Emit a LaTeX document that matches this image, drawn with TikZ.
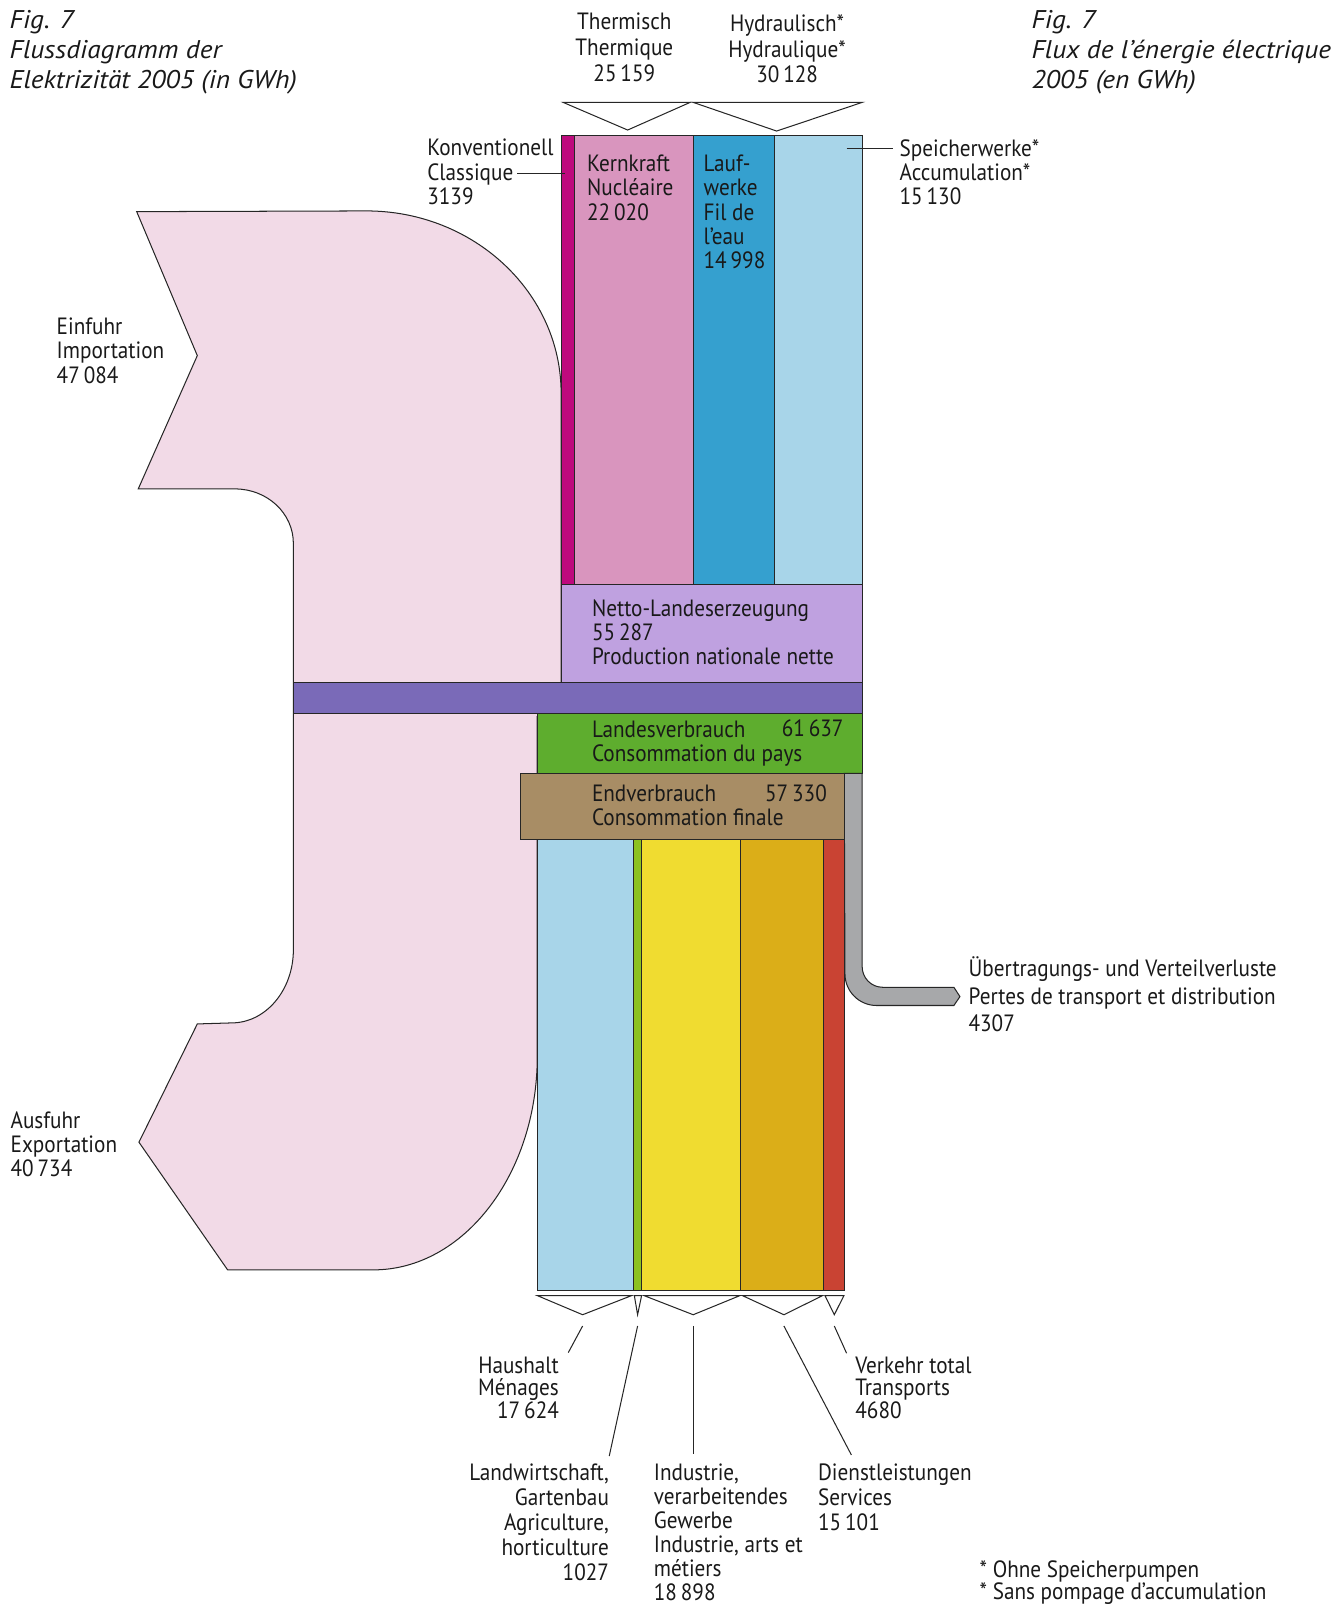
\documentclass[tikz,border=0pt]{standalone}
\usepackage{fontspec}
\setmainfont{PT Sans}
\newfontfamily\narrowfont[FakeStretch=0.9]{PT Sans}
\newfontfamily\widefont[FakeStretch=1.07]{PT Sans}
\definecolor{importpink}{RGB}{242,218,231}
\definecolor{conventional}{RGB}{190,10,125}
\definecolor{nuclear}{RGB}{217,149,190}
\definecolor{runofriver}{RGB}{53,160,207}
\definecolor{storage}{RGB}{168,213,233}
\definecolor{netprod}{RGB}{191,161,224}
\definecolor{crossbar}{RGB}{122,106,184}
\definecolor{domestic}{RGB}{94,173,46}
\definecolor{finaluse}{RGB}{168,141,101}
\definecolor{losses}{RGB}{167,168,170}
\definecolor{households}{RGB}{168,213,233}
\definecolor{agri}{RGB}{141,194,31}
\definecolor{industry}{RGB}{240,220,48}
\definecolor{services}{RGB}{219,174,24}
\definecolor{transport}{RGB}{201,67,51}

\begin{document}
\begin{tikzpicture}[x=0.5pt,y=-0.5pt]
                \tikzstyle{flow} = [draw=black!85, line width=0.5pt, fill={#1}]
                \tikzstyle{brace} = [draw=black!85, line width=0.5pt, fill=white]
                \tikzstyle{leader} = [draw=black!85, line width=0.5pt]
                \tikzstyle{txt} = [inner sep=0pt, anchor=base west, align=left, text=black!90,
                                   font=\narrowfont\fontsize{11.5}{11.8}\selectfont]
                \tikzstyle{title} = [txt, font=\widefont\itshape\fontsize{12.5}{14.65}\selectfont]
                \useasboundingbox (0,0) rectangle (1306,1567.5);
                \draw[flow=importpink] (133.5,206.7) -- (358,206)
                    .. controls (462.6,206) and (548,285.7) .. (548,384) -- (548,700) -- (524.7,700)
                    -- (524.7,1032) .. controls (524.7,1146.9) and (452.6,1240.2) .. (364.6,1240.2)
                    -- (222.3,1240.2) -- (135.7,1115.5) -- (192.7,1000) -- (226.2,999)
                    .. controls (259.5,999) and (286.5,967) .. (286.5,927.7) -- (286.5,530.6)
                    .. controls (286.5,501.3) and (261,477.5) .. (229.5,477.5) -- (135,477.5)
                    -- (192.7,347.3) -- cycle;
                \draw[flow=conventional] (548,132.5) rectangle (561,571.3);
                \draw[flow=nuclear] (561,132.5) rectangle (677.7,571.3);
                \draw[flow=runofriver] (677.7,132.5) rectangle (756.2,571.3);
                \draw[flow=storage] (756.2,132.5) rectangle (842,571.3);
                \draw[flow=netprod] (548,571.3) rectangle (842,666.3);
                \draw[flow=crossbar] (286.5,666.3) rectangle (842,696.6);
                \draw[flow=domestic] (524.7,696.6) rectangle (842,755.2);
                \draw[flow=losses] (824.5,755.2) -- (842,755.2) -- (842,944)
                    .. controls (842,955.2) and (851,964.2) .. (862,964.2) -- (931.6,964.2)
                    -- (937.5,973.3) -- (931.6,982) -- (856,982)
                    .. controls (839,982) and (825.2,968.1) .. (825.2,951) -- (824.5,755.2) -- cycle;
                \draw[flow=finaluse] (508.5,755.2) rectangle (824.5,819.7);
                \draw[flow=households] (524.7,819.7) rectangle (618.5,1260.4);
                \draw[flow=agri] (618.5,819.7) rectangle (626.6,1260.4);
                \draw[flow=industry] (626.6,819.7) rectangle (723.3,1260.4);
                \draw[flow=services] (723.3,819.7) rectangle (804,1260.4);
                \draw[flow=transport] (804,819.7) rectangle (825.2,1260.4);
                \draw[brace] (550,100) -- (674,100) -- (613,127) -- cycle;
                \draw[brace] (677,100) -- (842,100) -- (758.5,128) -- cycle;
                \draw[brace] (524.7,1265.3) -- (616.9,1265.3) -- (569,1284) -- cycle;
                \draw[brace] (619.5,1265.3) -- (626.6,1265.3) -- (622.7,1284) -- cycle;
                \draw[brace] (628.9,1265.3) -- (722.7,1265.3) -- (677,1284) -- cycle;
                \draw[brace] (725,1265.3) -- (803.4,1265.3) -- (765.6,1284) -- cycle;
                \draw[brace] (805.7,1265.3) -- (824.2,1265.3) -- (814.8,1284) -- cycle;
                \node[title] (figDE) at (9,86.3) {Fig. 7\\Flussdiagramm der\\Elektrizität 2005 (in GWh)};
                \node[title] (figFR) at (1007,86.3) {Fig. 7\\Flux de l’énergie électrique\\2005 (en GWh)};
                \node[txt, anchor=base, align=center, font=\narrowfont\fontsize{11.5}{12.5}\selectfont]
                    (thermal) at (609.7,79.2) {Thermisch\\Thermique\\25\,159};
                \node[txt, anchor=base, align=center, font=\narrowfont\fontsize{11.5}{12.5}\selectfont]
                    (hydro) at (768.7,80.8) {Hydraulisch*\\Hydraulique*\\30\,128};
                \node[txt] (conv) at (417,199.5) {Konventionell\\Classique\\3139};
                \node[txt] (stor) at (878.2,200.2) {Speicherwerke*\\Accumulation*\\15\,130};
                \node[txt] (nucl) at (573,214.9) {Kernkraft\\Nucléaire\\22\,020};
                \node[txt] (river) at (686.8,262.1) {Lauf-\\werke\\Fil de\\l’eau\\14\,998};
                \node[txt] (import) at (55,374.2) {Einfuhr\\Importation\\47\,084};
                \node[txt] (export) at (10,1149.2) {Ausfuhr\\Exportation\\40\,734};
                \node[txt] (net) at (577.8,649.4) {Netto-Landeserzeugung\\55\,287\\Production nationale nette};
                \node[txt] (dom) at (577.8,743.8) {Landesverbrauch\\Consommation du pays};
                \node[txt, anchor=base east] (domval) at (824.2,719.4) {61\,637};
                \node[txt] (fin) at (577.8,806.6) {Endverbrauch\\Consommation finale};
                \node[txt, anchor=base east] (finval) at (807.9,782.9) {57\,330};
                \node[txt, font=\narrowfont\fontsize{11.5}{13.4}\selectfont] (loss) at (945.6,1007.5)
                    {Übertragungs- und Verteilverluste\\Pertes de transport et distribution\\4307};
                \node[txt, anchor=base east, align=right, font=\narrowfont\fontsize{11.5}{11}\selectfont]
                    (house) at (546.2,1385) {Haushalt\\Ménages\\17\,624};
                \node[txt, font=\narrowfont\fontsize{11.5}{11}\selectfont] (trans) at (835,1385)
                    {Verkehr total\\Transports\\4680};
                \node[txt, anchor=base east, align=right, font=\narrowfont\fontsize{11.5}{12.2}\selectfont]
                    (farm) at (595.1,1543.8) {Landwirtschaft,\\Gartenbau\\Agriculture,\\horticulture\\1027};
                \node[txt, font=\narrowfont\fontsize{11.5}{11.7}\selectfont] (ind) at (638.2,1563)
                    {Industrie,\\verarbeitendes\\Gewerbe\\Industrie, arts et\\métiers\\18\,898};
                \node[txt, font=\narrowfont\fontsize{11.5}{12.2}\selectfont] (serv) at (798.6,1495)
                    {Dienstleistungen\\Services\\15\,101};
                \node[txt, font=\narrowfont\fontsize{11.5}{11}\selectfont] (note) at (956.4,1562.5)
                    {* Ohne Speicherpumpen\\* Sans pompage d’accumulation};
                \coordinate (convA) at (505,169);
                \coordinate (convB) at (552,169);
                \coordinate (storA) at (826.8,145.5);
                \coordinate (storB) at (872,145.5);
                \coordinate (houseA) at (569,1295);
                \coordinate (houseB) at (555,1321);
                \coordinate (farmA) at (622.7,1295);
                \coordinate (farmB) at (595,1422);
                \coordinate (indA) at (677,1295);
                \coordinate (indB) at (677,1420);
                \coordinate (servA) at (765.6,1295);
                \coordinate (servB) at (831.5,1421);
                \coordinate (transA) at (814.8,1295);
                \coordinate (transB) at (826.8,1321.6);
                \draw[leader] (convA) -- (convB);
                \draw[leader] (storA) -- (storB);
                \draw[leader] (houseA) -- (houseB);
                \draw[leader] (farmA) -- (farmB);
                \draw[leader] (indA) -- (indB);
                \draw[leader] (servA) -- (servB);
                \draw[leader] (transA) -- (transB);
            \end{tikzpicture}
\end{document}
